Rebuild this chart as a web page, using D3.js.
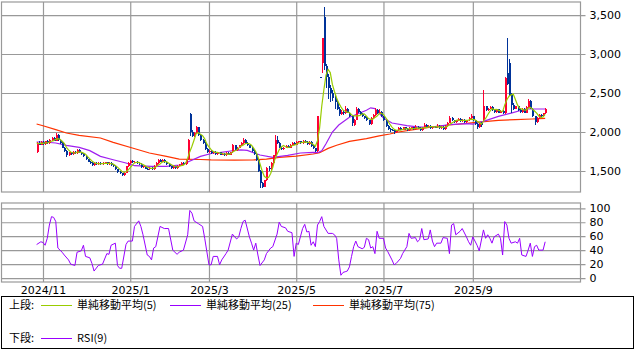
<!DOCTYPE html>
<html>
<head>
<meta charset="utf-8">
<script src="https://cdn.jsdelivr.net/npm/d3@7"></script>
<style>
    body { margin: 0; background: #fff; }
    text { font-family: "DejaVu Sans", sans-serif; font-size: 11px; fill: #000; }
    .legend text { font-family: "Noto Sans CJK JP", sans-serif; font-size: 11px; }
</style>
</head>
<body>
<div id="chart"></div>
<script>

// daily candles, index = trading day (0 = 2024/10/29)
const opens = [
    1740,1860,1840,1870,1850,1880,1860,1900,1920,1890, 1960,1900,1860,1800,1760,1700,1740,1720,1750,1730,
    1770,1740,1720,1690,1650,1620,1600,1580,1600,1590, 1605,1585,1600,1610,1590,1600,1580,1560,1520,1490,
    1470,1450,1480,1560,1600,1630,1610,1620,1600,1590, 1550,1560,1530,1520,1540,1520,1570,1600,1640,1620,
    1640,1610,1590,1560,1540,1560,1540,1570,1580,1600, 1590,1650,2230,2000,1950,1990,2060,1960,1900,1860,
    1780,1740,1760,1730,1750,1720,1740,1710,1720,1700, 1730,1710,1740,1830,1770,1800,1830,1860,1900,1860,
    1830,1800,1760,1720,1640,1500,1340,1300,1380,1540, 1520,1600,1700,1900,1860,1800,1780,1800,1820,1800,
    1840,1860,1840,1870,1880,1860,1890,1870,1850,1870, 1820,1790,1760,2700,2890,3470,2850,2700,2560,2500,
    2440,2380,2300,2230,2260,2240,2300,2250,2200,2090, 2160,2300,2260,2230,2200,2180,2150,2100,2180,2220,
    2280,2240,2260,2200,2150,2080,2040,2030,2020,2000, 2020,2050,2030,2060,2040,2020,2050,2060,2040,2070,
    2050,2020,2060,2090,2060,2080,2050,2070,2060,2080, 2050,2070,2040,2080,2120,2180,2150,2130,2150,2170,
    2140,2160,2130,2150,2180,2200,2150,2100,2060,2110, 2150,2330,2280,2300,2320,2280,2260,2290,2250,2270,
    2240,2760,2880,2480,2350,2300,2330,2280,2260,2300, 2250,2320,2400,2300,2200,2130,2180,2220,2200,2240
];
const highs = [
    1870,1880,1880,1890,1890,1900,1910,1940,1930,1990, 1970,1910,1870,1810,1770,1750,1750,1760,1760,1780,
    1780,1750,1730,1700,1660,1630,1610,1610,1610,1620, 1615,1610,1620,1620,1610,1610,1590,1570,1530,1500,
    1480,1490,1570,1610,1640,1640,1630,1630,1610,1600, 1570,1570,1540,1550,1550,1580,1610,1650,1650,1650,
    1650,1620,1600,1570,1570,1570,1580,1590,1610,1610, 1660,1910,2250,2020,2000,2080,2070,1970,1910,1870,
    1790,1770,1770,1760,1760,1750,1750,1730,1730,1740, 1740,1750,1850,1840,1810,1840,1870,1920,1910,1870,
    1840,1810,1770,1730,1650,1510,1360,1390,1550,1560, 1610,1710,1960,1950,1870,1810,1810,1830,1830,1850,
    1870,1870,1880,1890,1890,1900,1900,1880,1880,1880, 1830,1800,2200,2700,3210,3600,2870,2750,2600,2540,
    2470,2400,2320,2280,2280,2330,2310,2260,2210,2170, 2320,2310,2270,2240,2210,2190,2160,2190,2230,2310,
    2290,2300,2270,2210,2160,2090,2050,2040,2030,2030, 2060,2060,2070,2070,2050,2060,2070,2070,2090,2080,
    2060,2070,2110,2100,2090,2090,2080,2080,2100,2090, 2080,2080,2090,2130,2200,2190,2160,2160,2180,2180,
    2170,2170,2160,2190,2230,2210,2160,2110,2120,2130, 2540,2340,2310,2340,2330,2290,2300,2300,2280,2280,
    2700,3200,2930,2500,2370,2340,2340,2290,2310,2310, 2330,2420,2410,2310,2210,2190,2230,2230,2250,2310
];
const lows = [
    1730,1830,1830,1840,1840,1850,1850,1890,1880,1880, 1890,1850,1790,1750,1680,1690,1710,1710,1720,1720,
    1730,1710,1680,1640,1610,1590,1570,1570,1580,1580, 1575,1575,1590,1580,1580,1570,1550,1510,1480,1460,
    1430,1440,1470,1550,1590,1600,1600,1590,1580,1540, 1540,1520,1510,1510,1510,1510,1560,1590,1610,1610,
    1600,1580,1550,1530,1530,1530,1530,1560,1570,1580, 1580,1640,1950,1940,1930,1980,1950,1890,1850,1770,
    1730,1730,1720,1720,1710,1710,1700,1700,1690,1690, 1700,1700,1730,1760,1760,1790,1820,1850,1850,1820,
    1790,1750,1710,1630,1490,1280,1280,1290,1370,1500, 1510,1590,1690,1850,1790,1770,1770,1790,1790,1790,
    1830,1830,1830,1860,1850,1850,1860,1840,1840,1810, 1780,1740,1750,2700,2760,2800,2560,2420,2380,2400,
    2300,2280,2210,2220,2220,2230,2240,2190,2080,2080, 2150,2250,2220,2190,2170,2140,2090,2090,2170,2210,
    2230,2230,2190,2140,2070,2030,2000,2010,1980,1990, 2010,2020,2020,2030,2010,2010,2040,2030,2030,2040,
    2010,2010,2050,2050,2050,2040,2040,2050,2050,2040, 2040,2030,2030,2070,2110,2140,2120,2120,2140,2130,
    2130,2120,2120,2140,2170,2140,2090,2040,2050,2070, 2140,2270,2270,2290,2270,2250,2250,2240,2240,2230,
    2230,2600,2460,2240,2280,2290,2270,2250,2250,2240, 2240,2310,2290,2190,2090,2120,2170,2190,2190,2230
];
const closes = [
    1860,1840,1870,1850,1880,1860,1900,1920,1890,1960, 1900,1860,1800,1760,1700,1740,1720,1750,1730,1770,
    1740,1720,1690,1650,1620,1600,1580,1600,1590,1605, 1585,1600,1610,1590,1600,1580,1560,1520,1490,1470,
    1450,1480,1560,1600,1630,1610,1620,1600,1590,1550, 1560,1530,1520,1540,1520,1570,1600,1640,1620,1640,
    1610,1590,1560,1540,1560,1540,1570,1580,1600,1590, 1650,1900,2000,1950,1990,2060,1960,1900,1860,1780,
    1740,1760,1730,1750,1720,1740,1710,1720,1700,1730, 1710,1740,1830,1770,1800,1830,1860,1900,1860,1830,
    1800,1760,1720,1640,1500,1340,1300,1380,1540,1520, 1600,1700,1900,1860,1800,1780,1800,1820,1800,1840,
    1860,1840,1870,1880,1860,1890,1870,1850,1870,1820, 1790,1760,2200,2700,3200,2850,2700,2560,2500,2440,
    2380,2300,2230,2260,2240,2300,2250,2200,2120,2160, 2300,2260,2230,2200,2180,2150,2100,2180,2220,2280,
    2240,2260,2200,2150,2080,2040,2030,2020,2000,2020, 2050,2030,2060,2040,2020,2050,2060,2040,2070,2050,
    2020,2060,2090,2060,2080,2050,2070,2060,2080,2050, 2070,2040,2080,2120,2180,2150,2130,2150,2170,2140,
    2160,2130,2150,2180,2200,2150,2100,2060,2110,2090, 2330,2280,2300,2320,2280,2260,2290,2250,2270,2240,
    2690,2620,2480,2350,2300,2330,2280,2260,2300,2250, 2320,2400,2300,2200,2130,2180,2220,2200,2240,2290
];

// moving averages [day, value]
const sma25Points = [
    [0,1872],[3,1872],[9,1859],[14,1829],[20,1803],[25,1761],[30,1688],[36,1645],[42,1603],[46,1568],
    [54,1560],[61,1560],[67,1577],[70,1603],[77,1688],[83,1731],[86,1735],[92,1760],[96,1770],[99,1765],
    [105,1705],[111,1676],[118,1701],[124,1731],[130,1739],[132,1735],[134,1760],[136,1850],
    [139,2000],[142,2090],[147,2190],[155,2280],[157,2310],[159,2300],[163,2180],[167,2115],[174,2081],
    [180,2064],[186,2064],[194,2094],[202,2107],[205,2100],[210,2137],[217,2200],[223,2243],[230,2295],[239,2295]
];
const sma75Points = [
    [0,2103],[3,2081],[9,2030],[14,1987],[20,1957],[30,1923],[36,1868],[45,1795],[53,1731],[61,1688],
    [67,1652],[77,1648],[82,1642],[93,1640],[102,1642],[108,1652],[114,1676],[122,1690],[130,1718],
    [133,1735],[137,1790],[141,1830],[147,1880],[155,1915],[161,1950],[166,1975],[170,2000],[178,2035],
    [186,2065],[194,2090],[202,2110],[209,2130],[217,2150],[225,2160],[233,2167],[239,2175]
];

// RSI(9) [day, value]
const rsiPoints = [
    [0,48],[2,52],[3,51],[4,47],[5,57],[6,76],[7,88],[8,87],[9,81],[10,43],[12,37],[13,33],[15,26],[16,20],
    [18,18],[19,37],[21,39],[22,47],[23,31],[25,29],[26,21],[27,10],[29,18],[31,20],[33,35],[34,34],[35,47],
    [37,50],[38,18],[39,14],[40,14],[42,48],[43,53],[45,53],[46,74],[48,82],[49,74],[50,62],[52,33],[53,31],
    [54,26],[55,43],[56,45],[58,74],[60,71],[62,71],[64,40],[66,34],[67,37],[69,40],[71,62],[72,97],[73,93],
    [74,82],[76,78],[78,74],[79,57],[81,19],[82,19],[83,31],[85,31],[86,19],[87,26],[89,35],[90,40],[92,63],
    [94,56],[95,59],[96,71],[97,81],[98,83],[100,59],[101,50],[102,40],[103,50],[104,33],[105,18],[107,26],
    [108,35],[110,43],[111,45],[113,63],[114,80],[115,74],[117,72],[118,67],[120,65],[121,31],[122,50],
    [123,48],[125,71],[126,77],[127,66],[128,67],[129,47],[130,52],[131,45],[132,76],[133,81],[134,88],
    [135,74],[137,64],[139,64],[140,62],[141,57],[142,26],[143,4],[144,8],[145,9],[146,10],[147,16],[148,31],
    [149,45],[150,53],[151,45],[153,42],[154,44],[155,57],[156,55],[157,43],[158,45],[159,35],[160,67],
    [161,57],[163,57],[164,43],[165,38],[167,26],[168,19],[169,21],[171,28],[172,35],[174,45],[175,64],
    [176,57],[178,58],[179,52],[180,55],[181,71],[182,55],[184,56],[185,69],[186,53],[187,45],[188,50],
    [190,50],[191,58],[193,57],[194,35],[195,76],[196,78],[197,62],[199,67],[200,71],[202,59],[203,52],
    [204,47],[205,59],[207,47],[208,39],[210,69],[211,57],[212,62],[213,57],[214,50],[215,59],[217,63],
    [218,57],[219,33],[220,81],[221,76],[222,57],[223,50],[225,52],[226,50],[227,57],[228,33],[230,31],
    [231,40],[232,50],[233,31],[234,45],[235,47],[236,40],[238,40],[239,52]
];

// axis ticks
const monthLabels = ["2024/11", "2025/1", "2025/3", "2025/5", "2025/7", "2025/9"];
const monthDays = [3, 44, 81, 122, 163, 205];
const priceTicks = [1500, 2000, 2500, 3000, 3500];
const rsiTicks = [0, 20, 40, 60, 80, 100];

// legend
const legendUpper = [
    {label: "単純移動平均(5)", color: "#99cc00"},
    {label: "単純移動平均(25)", color: "#9900ff"},
    {label: "単純移動平均(75)", color: "#ff3300"}
];
const legendLower = [{label: "RSI(9)", color: "#9900ff"}];


class CandleChart {

    constructor(parentElement) {
        this.parentElement = parentElement;
        this.initVis();
    }

    initVis() {
        let vis = this;

        vis.width = 635;
        vis.height = 352;

        vis.svg = d3.select("#" + vis.parentElement).append("svg")
            .attr("width", vis.width)
            .attr("height", vis.height);

        // panel boxes (top, bottom in px)
        vis.pricePanel = {top: 2, bottom: 192};
        vis.rsiPanel = {top: 203, bottom: 282};
        vis.left = 1.5;
        vis.right = 580.5;

        vis.x = d3.scaleLinear()
            .domain([-16.5, 255.6])
            .range([vis.left, vis.right]);

        vis.yPrice = d3.scaleLinear()
            .domain([1231, 3667])
            .range([vis.pricePanel.bottom, vis.pricePanel.top]);

        vis.yRsi = d3.scaleLinear()
            .domain([-5.7, 107.6])
            .range([vis.rsiPanel.bottom, vis.rsiPanel.top]);

        vis.wrangleData();
    }

    wrangleData() {
        let vis = this;

        vis.candles = closes.map((c, i) => ({
            i: i, open: opens[i], high: highs[i], low: lows[i], close: c
        }));

        // 5 day simple moving average of the close
        vis.sma5 = closes.map((c, i) => [i, d3.mean(closes.slice(Math.max(0, i - 4), i + 1))]);

        vis.updateVis();
    }

    drawPanel(panel, yScale, ticks, fmt) {
        let vis = this;
        let h = panel.bottom - panel.top;

        // horizontal grid + right labels
        let yAxis = d3.axisRight(yScale)
            .tickValues(ticks)
            .tickSize(vis.right - vis.left + 5)
            .tickPadding(4)
            .tickFormat(fmt);

        let gy = vis.svg.append("g")
            .attr("transform", "translate(" + vis.left + ",0)")
            .call(yAxis);
        gy.select(".domain").remove();

        // vertical month grid
        let xAxis = d3.axisBottom(vis.x)
            .tickValues(monthDays)
            .tickSize(h)
            .tickFormat("");

        let gx = vis.svg.append("g")
            .attr("transform", "translate(0," + panel.top + ")")
            .call(xAxis);
        gx.select(".domain").remove();

        vis.svg.selectAll(".tick line")
            .attr("stroke", "#999")
            .attr("stroke-width", 1.2);
        vis.svg.selectAll(".tick text")
            .attr("fill", "#000")
            .style("font-family", "DejaVu Sans")
            .style("font-size", "11px");

        vis.svg.append("rect")
            .attr("x", vis.left)
            .attr("y", panel.top)
            .attr("width", vis.right - vis.left)
            .attr("height", h)
            .attr("fill", "none")
            .attr("stroke", "#999")
            .attr("stroke-width", 1.2);
    }

    updateVis() {
        let vis = this;

        vis.drawPanel(vis.pricePanel, vis.yPrice, priceTicks, d3.format(","));
        vis.drawPanel(vis.rsiPanel, vis.yRsi, rsiTicks, d3.format("d"));

        // month labels under the RSI panel
        let labelAxis = d3.axisBottom(vis.x)
            .tickValues(monthDays)
            .tickSize(0)
            .tickPadding(4)
            .tickFormat((d, k) => monthLabels[k]);
        let gl = vis.svg.append("g")
            .attr("transform", "translate(0," + vis.rsiPanel.bottom + ")")
            .call(labelAxis);
        gl.select(".domain").remove();
        gl.selectAll("text")
            .attr("fill", "#000")
            .style("font-family", "DejaVu Sans")
            .style("font-size", "11px");

        // moving averages (75/25 under the candles, 5 over them)
        let line = d3.line()
            .x(d => vis.x(d[0]))
            .y(d => vis.yPrice(d[1]));

        vis.svg.append("path")
            .datum(sma75Points)
            .attr("fill", "none")
            .attr("stroke", "#ff3300")
            .attr("stroke-width", 1.2)
            .attr("d", line);

        vis.svg.append("path")
            .datum(sma25Points)
            .attr("fill", "none")
            .attr("stroke", "#a020f0")
            .attr("stroke-width", 1.2)
            .attr("d", line);

        // candles
        let cg = vis.svg.append("g")
            .attr("class", "candles")
            .attr("shape-rendering", "crispEdges");
        let candle = cg.selectAll("g")
            .data(vis.candles)
            .enter().append("g");

        const col = d => d.close > d.open ? "#ff0033" : "#003399";

        candle.append("line")
            .attr("x1", d => Math.round(vis.x(d.i)) + 0.5)
            .attr("x2", d => Math.round(vis.x(d.i)) + 0.5)
            .attr("y1", d => vis.yPrice(d.high))
            .attr("y2", d => vis.yPrice(d.low))
            .attr("stroke", col)
            .attr("stroke-width", 1);

        candle.append("rect")
            .attr("x", d => Math.round(vis.x(d.i)))
            .attr("width", 2)
            .attr("y", d => vis.yPrice(Math.max(d.open, d.close)))
            .attr("height", d => Math.max(1, vis.yPrice(Math.min(d.open, d.close)) - vis.yPrice(Math.max(d.open, d.close))))
            .attr("fill", col);

        vis.svg.append("path")
            .datum(vis.sma5)
            .attr("fill", "none")
            .attr("stroke", "#99cc00")
            .attr("stroke-width", 1.2)
            .attr("d", line);

        // RSI
        let rsiLine = d3.line()
            .x(d => vis.x(d[0]))
            .y(d => vis.yRsi(d[1]));

        vis.svg.append("path")
            .datum(rsiPoints)
            .attr("fill", "none")
            .attr("stroke", "#9900ff")
            .attr("stroke-width", 1)
            .attr("d", rsiLine);

        // legend box
        let lg = vis.svg.append("g").attr("class", "legend");

        lg.append("rect")
            .attr("x", 1.5)
            .attr("y", 296.5)
            .attr("width", 632)
            .attr("height", 52)
            .attr("fill", "none")
            .attr("stroke", "#000")
            .attr("stroke-width", 1);

        lg.append("text").attr("x", 9).attr("y", 309).text("上段:");
        lg.append("text").attr("x", 9).attr("y", 342).text("下段:");

        let itemX = [41, 170, 313];
        legendUpper.forEach((d, k) => {
            lg.append("line")
                .attr("x1", itemX[k]).attr("x2", itemX[k] + 31)
                .attr("y1", 305.5).attr("y2", 305.5)
                .attr("stroke", d.color);
            lg.append("text")
                .attr("x", itemX[k] + 36)
                .attr("y", 309)
                .text(d.label);
        });

        legendLower.forEach((d, k) => {
            lg.append("line")
                .attr("x1", itemX[k]).attr("x2", itemX[k] + 31)
                .attr("y1", 338.5).attr("y2", 338.5)
                .attr("stroke", d.color);
            lg.append("text")
                .attr("x", itemX[k] + 36)
                .attr("y", 342)
                .text(d.label);
        });
    }
}

new CandleChart("chart");

</script>
</body>
</html>
